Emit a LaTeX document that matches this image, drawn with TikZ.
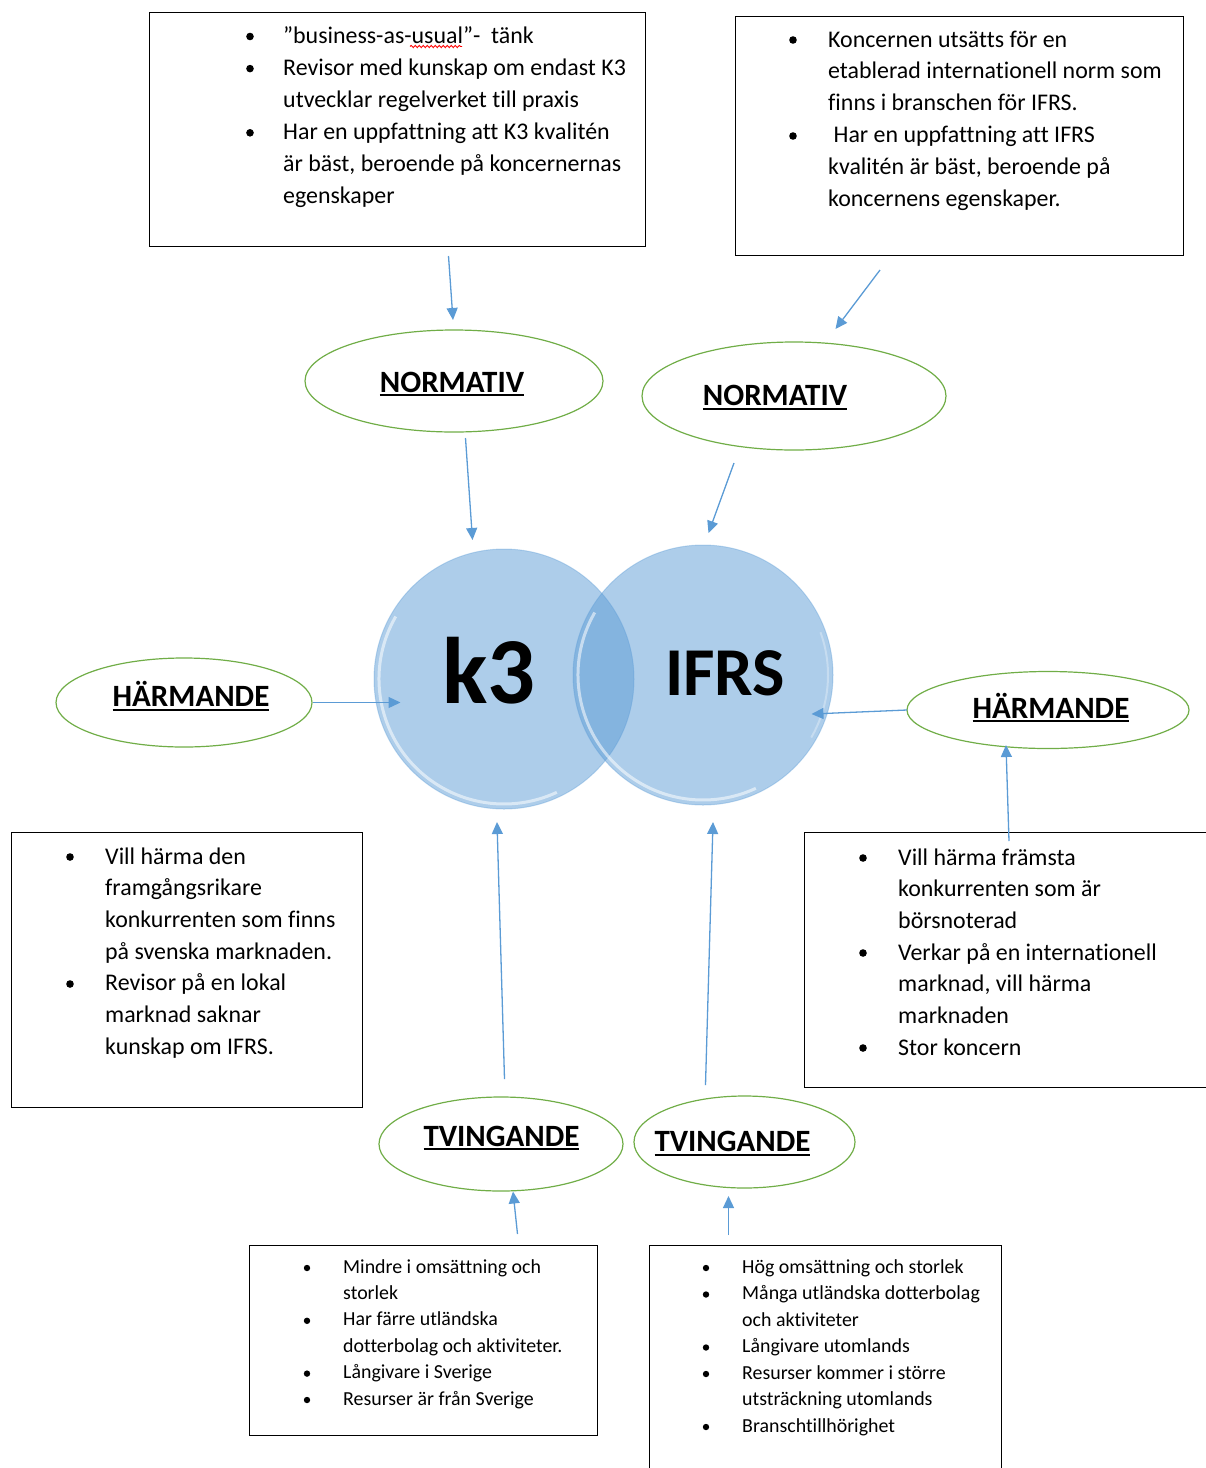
\documentclass[tikz,border=0pt]{standalone}
\usepackage{fontspec}
\setmainfont{Carlito}[Ligatures=NoCommon]
\usetikzlibrary{arrows.meta,shapes.geometric,decorations.pathmorphing}
\definecolor{arrowblue}{HTML}{5B9BD5}
\definecolor{ellgreen}{HTML}{70AD47}
\definecolor{circblue}{HTML}{5B9BD5}
\newcommand{\myul}[1]{\setbox0=\hbox{#1}\rlap{\rule[-4pt]{\wd0}{1.9pt}}\box0}
\tikzset{
  txtbox/.style={draw=black, line width=1.2pt, rectangle, inner sep=0pt, anchor=north west},
  bline/.style={anchor=base west, inner sep=0pt, font=\fontsize{23.9}{28}\selectfont},
  sline/.style={anchor=base west, inner sep=0pt, font=\fontsize{19.9}{23}\selectfont},
  oval/.style={draw=ellgreen, line width=1.2pt, ellipse, inner sep=0pt},
  ovtext/.style={anchor=base, inner sep=0pt, font=\fontsize{31}{36}\selectfont\bfseries},
  conn/.style={draw=arrowblue, line width=1.3pt, -{Triangle[length=12pt,width=11pt]}},
  rim/.style={white, opacity=0.55, line width=3pt},
}
\begin{document}
\begin{tikzpicture}[x=1pt, y=-1pt]
\useasboundingbox (0,0) rectangle (1206,1468);
\begin{scope}
\clip (0,0) rectangle (1206,1468);

% ---------- text boxes ----------
\node[txtbox, minimum width=496pt, minimum height=234pt] (boxTL) at (149,12) {};
\node[txtbox, minimum width=448pt, minimum height=239pt] (boxTR) at (735,16) {};
\node[txtbox, minimum width=351pt, minimum height=275pt] (boxML) at (11,832) {};
\node[txtbox, minimum width=420pt, minimum height=255pt] (boxMR) at (804,832) {};
\node[txtbox, minimum width=348pt, minimum height=190pt] (boxBL) at (249,1245) {};
\node[txtbox, minimum width=352pt, minimum height=260pt] (boxBR) at (649,1245) {};

% TL box
\fill (250,36.5) circle (3.8);
\fill (250,68.6) circle (3.8);
\fill (250,132.8) circle (3.8);
\node[bline] (tl1) at (283,43) {”business-as-usual”-\ \ tänk};
\draw[red, line width=0.9pt, decorate, decoration={snake, segment length=4pt, amplitude=1.1pt}] (410,46.5) -- (462,46.5);
\node[bline] (tl2) at (283,75.1) {Revisor med kunskap om endast K3};
\node[bline] (tl3) at (283,107.2) {utvecklar regelverket till praxis};
\node[bline] (tl4) at (283,139.3) {Har en uppfattning att K3 kvalitén};
\node[bline] (tl5) at (283,171.4) {är bäst, beroende på koncernernas};
\node[bline] (tl6) at (283,203.5) {egenskaper};

% TR box
\fill (793,40) circle (3.8);
\fill (793,136) circle (3.8);
\node[bline] (tr1) at (828,47) {Koncernen utsätts för en};
\node[bline] (tr2) at (828,78.8) {etablerad internationell norm som};
\node[bline] (tr3) at (828,110.6) {finns i branschen för IFRS.};
\node[bline] (tr4) at (828,142.4) {\ Har en uppfattning att IFRS};
\node[bline] (tr5) at (828,174.2) {kvalitén är bäst, beroende på};
\node[bline] (tr6) at (828,206) {koncernens egenskaper.};

% ML box
\fill (70,857) circle (3.8);
\fill (70,984) circle (3.8);
\node[bline] (ml1) at (105,864) {Vill härma den};
\node[bline] (ml2) at (105,895.7) {framgångsrikare};
\node[bline] (ml3) at (105,927.3) {konkurrenten som finns};
\node[bline] (ml4) at (105,959) {på svenska marknaden.};
\node[bline] (ml5) at (105,990.7) {Revisor på en lokal};
\node[bline] (ml6) at (105,1022.3) {marknad saknar};
\node[bline] (ml7) at (105,1054) {kunskap om IFRS.};

% MR box
\fill (863,858) circle (3.8);
\fill (863,953) circle (3.8);
\fill (863,1048) circle (3.8);
\node[bline] (mr1) at (898,865) {Vill härma främsta};
\node[bline] (mr2) at (898,896.7) {konkurrenten som är};
\node[bline] (mr3) at (898,928.3) {börsnoterad};
\node[bline] (mr4) at (898,960) {Verkar på en internationell};
\node[bline] (mr5) at (898,991.7) {marknad, vill härma};
\node[bline] (mr6) at (898,1023.3) {marknaden};
\node[bline] (mr7) at (898,1055) {Stor koncern};

% BL box
\fill (307,1268) circle (3.2);
\fill (307,1320.8) circle (3.2);
\fill (307,1373.6) circle (3.2);
\fill (307,1400) circle (3.2);
\node[sline] (bl1) at (343,1273) {Mindre i omsättning och};
\node[sline] (bl2) at (343,1299.4) {storlek};
\node[sline] (bl3) at (343,1325.8) {Har färre utländska};
\node[sline] (bl4) at (343,1352.2) {dotterbolag och aktiviteter.};
\node[sline] (bl5) at (343,1378.6) {Långivare i Sverige};
\node[sline] (bl6) at (343,1405) {Resurser är från Sverige};

% BR box
\fill (706,1268) circle (3.2);
\fill (706,1294.5) circle (3.2);
\fill (706,1347.5) circle (3.2);
\fill (706,1374) circle (3.2);
\fill (706,1427) circle (3.2);
\node[sline] (br1) at (742,1273) {Hög omsättning och storlek};
\node[sline] (br2) at (742,1299.5) {Många utländska dotterbolag};
\node[sline] (br3) at (742,1326) {och aktiviteter};
\node[sline] (br4) at (742,1352.5) {Långivare utomlands};
\node[sline] (br5) at (742,1379) {Resurser kommer i större};
\node[sline] (br6) at (742,1405.5) {utsträckning utomlands};
\node[sline] (br7) at (742,1432) {Branschtillhörighet};
\end{scope}

% ---------- ellipses ----------
\node[oval, minimum width=298pt, minimum height=102pt] (normL) at (454,381) {};
\node[oval, minimum width=304pt, minimum height=108pt] (normR) at (794,396) {};
\node[oval, minimum width=256pt, minimum height=89pt] (harmL) at (184,702.5) {};
\node[oval, minimum width=282pt, minimum height=77pt] (harmR) at (1048,710) {};
\node[oval, minimum width=244pt, minimum height=94pt] (tvL) at (501,1144) {};
\node[oval, minimum width=221pt, minimum height=92pt] (tvR) at (744.5,1142) {};

\node[ovtext] (normLt) at (452,392) {\myul{NORMATIV}};
\node[ovtext] (normRt) at (775,405.5) {\myul{NORMATIV}};
\node[ovtext] (harmLt) at (191,706.5) {\myul{HÄRMANDE}};
\node[ovtext] (harmRt) at (1051,718) {\myul{HÄRMANDE}};
\node[ovtext] (tvLt) at (501.5,1146) {\myul{TVINGANDE}};
\node[ovtext] (tvRt) at (732.5,1151.5) {\myul{TVINGANDE}};

% ---------- circles ----------
\coordinate (k3c) at (504,679);
\coordinate (ifc) at (703,675);
\fill[circblue, fill opacity=0.5] (k3c) circle (130);
\fill[circblue, fill opacity=0.5] (ifc) circle (130);
\draw[circblue, opacity=0.35, line width=1pt] (k3c) circle (130);
\draw[circblue, opacity=0.35, line width=1pt] (ifc) circle (130);
\draw[rim] (k3c) ++(-150:125) arc[start angle=-150, end angle=-295, radius=125];
\draw[rim] (ifc) ++(-150:125) arc[start angle=-150, end angle=-295, radius=125];
\draw[white, opacity=0.3, line width=2pt] (ifc) ++(-330:125) arc[start angle=-330, end angle=-380, radius=125];
\node[anchor=base, inner sep=0pt, font=\fontsize{94.5}{95}\selectfont\bfseries] (k3) at (489,703) {k3};
\node[anchor=base, inner sep=0pt, font=\fontsize{68.5}{69}\selectfont\bfseries] (ifrs) at (725,695) {IFRS};

% ---------- connectors ----------
\coordinate (a1s) at (448.5,256);  \coordinate (a1e) at (453,320);
\coordinate (a2s) at (880,270);    \coordinate (a2e) at (835.5,329);
\coordinate (a3s) at (465.5,438);  \coordinate (a3e) at (472.5,540);
\coordinate (a4s) at (734,463);    \coordinate (a4e) at (708.5,533);
\coordinate (a5s) at (313,702.5);  \coordinate (a5e) at (400.5,702.5);
\coordinate (a6s) at (907,710);    \coordinate (a6e) at (811.5,714);
\coordinate (a7s) at (1009,841);   \coordinate (a7e) at (1006,745);
\coordinate (a8s) at (504.5,1079); \coordinate (a8e) at (497,822);
\coordinate (a9s) at (705.5,1085); \coordinate (a9e) at (713,822);
\coordinate (a10s) at (517.5,1234); \coordinate (a10e) at (513,1191.5);
\coordinate (a11s) at (728.5,1235); \coordinate (a11e) at (728.5,1196);
\draw[conn] (a1s) -- (a1e);
\draw[conn] (a2s) -- (a2e);
\draw[conn] (a3s) -- (a3e);
\draw[conn] (a4s) -- (a4e);
\draw[conn] (a5s) -- (a5e);
\draw[conn] (a6s) -- (a6e);
\draw[conn] (a7s) -- (a7e);
\draw[conn] (a8s) -- (a8e);
\draw[conn] (a9s) -- (a9e);
\draw[conn] (a10s) -- (a10e);
\draw[conn] (a11s) -- (a11e);
\end{tikzpicture}
\end{document}
